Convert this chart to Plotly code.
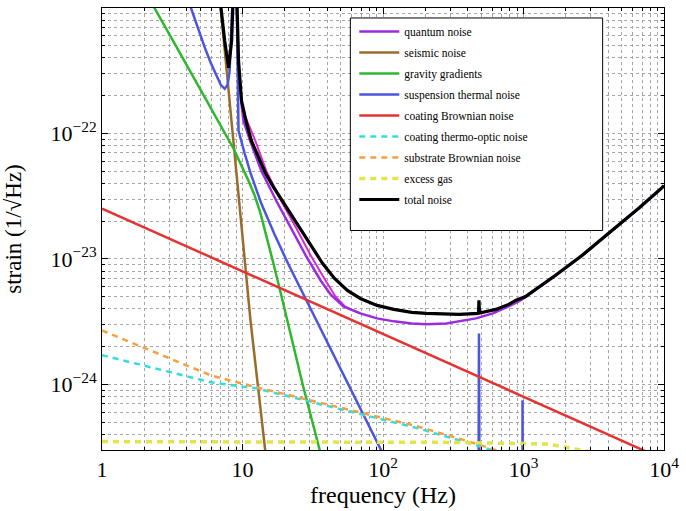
import plotly.graph_objects as go

# ---------------- data ----------------
quantum_f = [9.0, 9.4, 9.84, 10.16, 11.38, 13.61, 17.35, 22.14, 28.23, 36.0, 42.35, 52.28, 68.87, 90.7, 119.5,
             160, 204, 282, 349, 459, 605, 784, 952, 1033, 1215, 1680, 2603, 4446, 6665, 9681, 10000]
quantum_h = [1.5e-21, 3.3e-22, 1.7e-22, 1.262e-22, 8.6e-23, 5.05e-23, 2.92e-23, 1.778e-23, 1.064e-23, 6.73e-24,
             5.21e-24, 4.18e-24, 3.68e-24, 3.36e-24, 3.18e-24, 3.06e-24, 3.01e-24, 3.06e-24, 3.18e-24, 3.36e-24,
             3.68e-24, 4.18e-24, 4.67e-24, 4.95e-24, 5.65e-24, 7.3e-24, 1.055e-23, 1.73e-23, 2.54e-23, 3.67e-23, 3.81e-23]

quantum2_f = [10.5, 12.34, 14.75, 18.8, 24.0, 30.6, 39.0, 46.0, 54.0, 68.87]
quantum2_h = [1.35e-22, 8.75e-23, 5.05e-23, 2.92e-23, 1.778e-23, 1.064e-23, 6.73e-24, 5.0e-24, 4.15e-24, 3.68e-24]

seismic_f = [6.8, 7.0, 7.71, 8.37, 11.4, 14.5, 15.5]
seismic_h = [1.4e-21, 1.0e-21, 3.33e-22, 1.26e-22, 3.23e-24, 3.0e-25, 1.5e-25]

gravity_f = [2.0, 2.362, 3.266, 4.518, 6.249, 8.643, 11.02, 12.15, 13.39, 14.76, 16.54, 18.82, 21.09, 26.9,
             35.43, 40.0]
gravity_h = [1.34e-21, 1.0e-21, 5.27e-22, 2.77e-22, 1.462e-22, 7.56e-23, 4.21e-23, 3.25e-23, 2.34e-23, 1.563e-23,
             9.36e-24, 5.21e-24, 3.06e-24, 9.84e-25, 3.0e-25, 1.6e-25]

susp_f = [4.0, 4.30, 4.82, 5.40, 5.95, 6.56, 7.00, 7.47, 7.84, 8.10, 8.5, 8.85, 9.1, 9.37, 10.33, 11.38, 13.61,
          16.80, 21.09, 87.8, 96.8, 120, 200,
          475, 480, 482, 484, 490, 800, 975, 982, 984, 986, 995, 2000]
susp_h = [1.26e-21, 1.0e-21, 6.81e-22, 4.81e-22, 3.65e-22, 2.83e-22, 2.44e-22, 2.27e-22, 2.44e-22, 3.15e-22,
          1.1e-21, 3.5e-21, 1.1e-21, 1.05e-22, 7.02e-23, 4.87e-23, 2.76e-23,
          1.592e-23, 9.19e-24, 3.79e-25, 3.0e-25, 1.5e-25, 6e-26,
          1e-26, 1e-26, 2.55e-24, 1e-26, 1e-26, 1e-26, 1e-26, 1e-26, 7.46e-25, 1e-26, 1e-26, 1e-26]

coat_f = [1, 10000]
coat_h = [2.52e-23, 2.52e-25]

thermo_f = [1, 5.95, 12.5, 173, 410, 2000, 5000]
thermo_h = [1.71e-24, 1.04e-24, 9.3e-25, 4.5e-25, 3.4e-25, 1.95e-25, 1.45e-25]

substrate_f = [1, 5.95, 12.5, 173, 410, 2000, 5000]
substrate_h = [2.69e-24, 1.18e-24, 9.5e-25, 4.65e-25, 3.5e-25, 2.0e-25, 1.5e-25]

gas_f = [1, 300, 1500, 3000, 6000]
gas_h = [3.5e-25, 3.45e-25, 3.35e-25, 2.9e-25, 2.3e-25]

total_f = [6.8, 7.0, 7.47, 7.97, 8.37, 8.6, 8.85, 9.1, 9.37, 9.84, 10.67, 11.57, 12.97, 14.52, 16.54, 18.82,
           21.09, 24.80, 30.62, 37.19, 45.18, 55.79, 68.87, 90.7, 119.5, 160, 204, 282, 349, 478, 482, 486,
           635, 784, 878, 1033, 1215, 1680, 2603, 4446, 6665, 9681, 10000]
total_h = [1.4e-21, 1.0e-21, 5.46e-22, 3.33e-22, 5.5e-22, 1.3e-21, 4e-21, 1.3e-21, 3.8e-22, 1.82e-22, 1.217e-22,
           8.75e-23, 6.41e-23, 4.87e-23, 3.77e-23, 3.02e-23, 2.43e-23, 1.845e-23, 1.279e-23, 9.19e-24,
           6.98e-24, 5.61e-24, 4.84e-24, 4.26e-24, 3.96e-24, 3.75e-24, 3.68e-24, 3.61e-24, 3.61e-24,
           3.68e-24, 4.67e-24, 3.70e-24, 3.96e-24, 4.34e-24, 4.67e-24, 5.02e-24, 5.71e-24, 7.38e-24,
           1.064e-23, 1.745e-23, 2.56e-23, 3.70e-23, 3.84e-23]

x_ticks = [1, 10, 100, 1000, 10000]
x_ticktext = ['1', '10', '10<sup>2</sup>', '10<sup>3</sup>', '10<sup>4</sup>']
y_ticks = [1e-24, 1e-23, 1e-22]
y_ticktext = ['10<sup>\u221224</sup>', '10<sup>\u221223</sup>', '10<sup>\u221222</sup>']

# ---------------- figure ----------------
SERIF = 'Liberation Serif, Times New Roman, serif'
fig = go.Figure()


def add(f, h, name, color, width=2.5, dash='solid', showlegend=True):
    fig.add_trace(go.Scatter(
        x=f, y=h, mode='lines', name=name, legendgroup=name if showlegend else None,
        showlegend=showlegend,
        line=dict(color=color, width=width, dash=dash),
    ))


add(quantum2_f, quantum2_h, 'quantum2', '#D92BD0', width=2, showlegend=False)
add(quantum_f, quantum_h, 'quantum noise', '#9A2BE0')
add(seismic_f, seismic_h, 'seismic noise', '#9A6C2A')
add(gravity_f, gravity_h, 'gravity gradients', '#2DB82D')
add(susp_f, susp_h, 'suspension thermal noise', '#4B55E0')
add(coat_f, coat_h, 'coating Brownian noise', '#E63232')
add(thermo_f, thermo_h, 'coating thermo-optic noise', '#33DDDD', dash='6px,5px')
add(substrate_f, substrate_h, 'substrate Brownian noise', '#F5A040', dash='6px,5px')
add(gas_f, gas_h, 'excess gas', '#E2E44A', width=3.5, dash='6px,5px')
add(total_f, total_h, 'total noise', '#000000', width=3.2)

GRID = '#a6a6a6'
x_minor = [k * 10 ** e for e in range(0, 4) for k in range(2, 10)]
y_minor = [k * 10.0 ** e for e in range(-25, -21) for k in range(2, 10)]

axis_common = dict(
    type='log', showline=True, linecolor='black', linewidth=1, mirror='allticks',
    ticks='inside', ticklen=6, tickcolor='black', zeroline=False,
    showgrid=True, gridcolor=GRID, gridwidth=1, griddash='3px,3px',
    tickfont=dict(family=SERIF, size=22, color='black'),
)

fig.update_xaxes(
    **axis_common, range=[0, 4], tickmode='array', tickvals=x_ticks, ticktext=x_ticktext,
    minor=dict(tickmode='array', tickvals=x_minor, ticks='inside', ticklen=3, tickcolor='black',
               showgrid=True, gridcolor=GRID, gridwidth=1, griddash='3px,3px'),
    title=dict(text='frequency (Hz)', font=dict(family=SERIF, size=24, color='black'), standoff=2),
)
fig.update_yaxes(
    **axis_common, range=[-24.5229, -21], tickmode='array', tickvals=y_ticks, ticktext=y_ticktext,
    minor=dict(tickmode='array', tickvals=y_minor, ticks='inside', ticklen=3, tickcolor='black',
               showgrid=True, gridcolor=GRID, gridwidth=1, griddash='3px,3px'),
    title=dict(text='strain (1/\u221aHz)', font=dict(family=SERIF, size=23, color='black'), standoff=22),
)

# opaque legend box
fig.add_shape(type='rect', xref='paper', yref='paper', layer='above',
              x0=(353 - 102) / 568, x1=(608 - 102) / 568, y0=1 - (230 - 7) / 443, y1=1 - (17 - 7) / 443,
              fillcolor='white', line=dict(color='black', width=1))

fig.update_layout(
    width=686, height=511,
    margin=dict(l=102, r=16, t=7, b=61),
    paper_bgcolor='white', plot_bgcolor='white',
    showlegend=True,
    legend=dict(
        x=(357 - 102) / 568, y=1 - (16 - 7) / 443, xanchor='left', yanchor='top',
        bgcolor='rgba(0,0,0,0)', borderwidth=0,
        font=dict(family=SERIF, size=11.5, color='black'),
        traceorder='grouped', tracegroupgap=2, itemwidth=40,
    ),
)

fig.write_html('out.html')
